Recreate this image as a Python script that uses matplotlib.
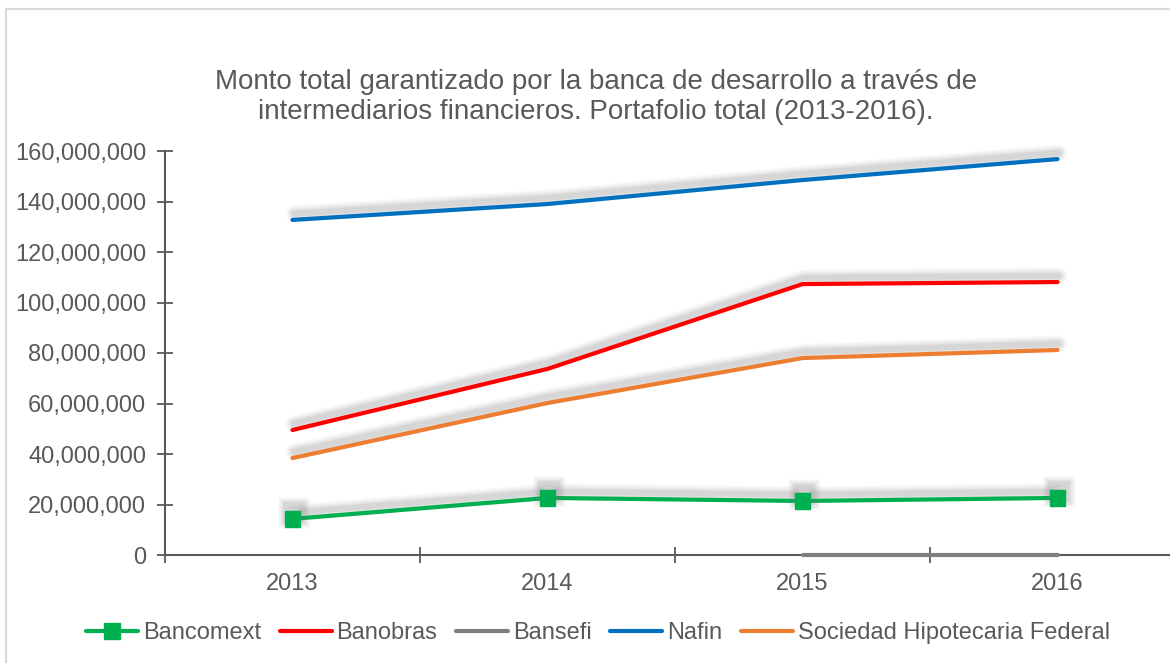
import matplotlib
matplotlib.use("Agg")
import matplotlib.pyplot as plt
import matplotlib.patheffects as pe
from matplotlib.ticker import FuncFormatter, FixedLocator
from matplotlib.patches import Rectangle
import numpy as np

plt.rcParams['font.family'] = ['Liberation Sans', 'DejaVu Sans']

years = ["2013", "2014", "2015", "2016"]
bancomext = [14.3e6, 22.6e6, 21.4e6, 22.6e6]
banobras = [49.5e6, 73.7e6, 107.3e6, 108.1e6]
bansefi = [np.nan, np.nan, 0, 0]
nafin = [132.7e6, 139.0e6, 148.5e6, 156.8e6]
shf = [38.4e6, 60.2e6, 78.0e6, 81.2e6]

title = ("Monto total garantizado por la banca de desarrollo a través de\n"
         "intermediarios financieros. Portafolio total (2013-2016).")

TXT = "#595959"
W, H = 1170, 663
fig = plt.figure(figsize=(W / 100, H / 100), dpi=100)
fig.patches.append(Rectangle((6 / W, -0.1), 1.2, (H - 9) / H + 0.1, transform=fig.transFigure,
                             fill=False, edgecolor="#d9d9d9", linewidth=1.6, zorder=0))

ax = fig.add_axes([165 / W, (H - 555) / H, 1020 / W, 404 / H])
x = np.arange(len(years))

def shadow(lw):
    effs = []
    for extra, a in [(9, 0.04), (7, 0.05), (5, 0.06), (3, 0.08), (1, 0.10)]:
        effs.append(pe.SimpleLineShadow(offset=(1, 4.5), shadow_color="#7a7a7a", alpha=a,
                                        rho=1.0, linewidth=lw + extra))
    effs.append(pe.Normal())
    return effs

lw = 3.0
series = [
    ("Bancomext", bancomext, "#00b050", "s"),
    ("Banobras", banobras, "#ff0000", None),
    ("Bansefi", bansefi, "#7f7f7f", None),
    ("Nafin", nafin, "#0070c0", None),
    ("Sociedad Hipotecaria Federal", shf, "#ed7d31", None),
]
handles = []
for name, vals, col, mk in series:
    kw = dict(color=col, linewidth=lw, solid_capstyle="round", label=name, zorder=3,
              clip_on=False)
    if mk:
        kw.update(marker=mk, markersize=11, markerfacecolor=col, markeredgecolor=col)
    line, = ax.plot(x, vals, **kw)
    if name != "Bansefi":
        line.set_path_effects(shadow(lw))
    h, = ax.plot([], [], color=col, linewidth=lw, solid_capstyle="round",
                 marker=mk, markersize=11, markerfacecolor=col, markeredgecolor=col, label=name)
    handles.append(h)

ax.set_xlim(-0.5, 3.5)
ax.set_ylim(0, 160e6)
ax.yaxis.set_major_locator(FixedLocator(np.arange(0, 160e6 + 1, 20e6)))
ax.yaxis.set_major_formatter(FuncFormatter(lambda v, p: f"{int(v):,}"))
ax.set_xticks(x)
ax.set_xticklabels(years)
ax.set_xticks([-0.5, 0.5, 1.5, 2.5], minor=True)

for s in ["top", "right"]:
    ax.spines[s].set_visible(False)
for s in ["left", "bottom"]:
    ax.spines[s].set_color(TXT)
    ax.spines[s].set_linewidth(1.5)

ax.tick_params(axis="y", direction="inout", length=11, width=1.3, color=TXT,
               labelcolor=TXT, labelsize=17, pad=8)
ax.tick_params(axis="x", which="major", length=0, labelcolor=TXT, labelsize=17, pad=13)
ax.tick_params(axis="x", which="minor", direction="inout", length=11, width=1.3, color=TXT)

fig.text(596 / W, 1 - 97 / H, title, ha="center", va="center", color=TXT, fontsize=20,
         linespacing=1.17)

fig.legend(handles=handles, loc="center", bbox_to_anchor=(598 / W, 1 - 633 / H), ncol=5,
           frameon=False, fontsize=17, labelcolor=TXT, handlelength=2.2, handletextpad=0.2,
           columnspacing=0.8)

fig.savefig("out.png", dpi=100)
